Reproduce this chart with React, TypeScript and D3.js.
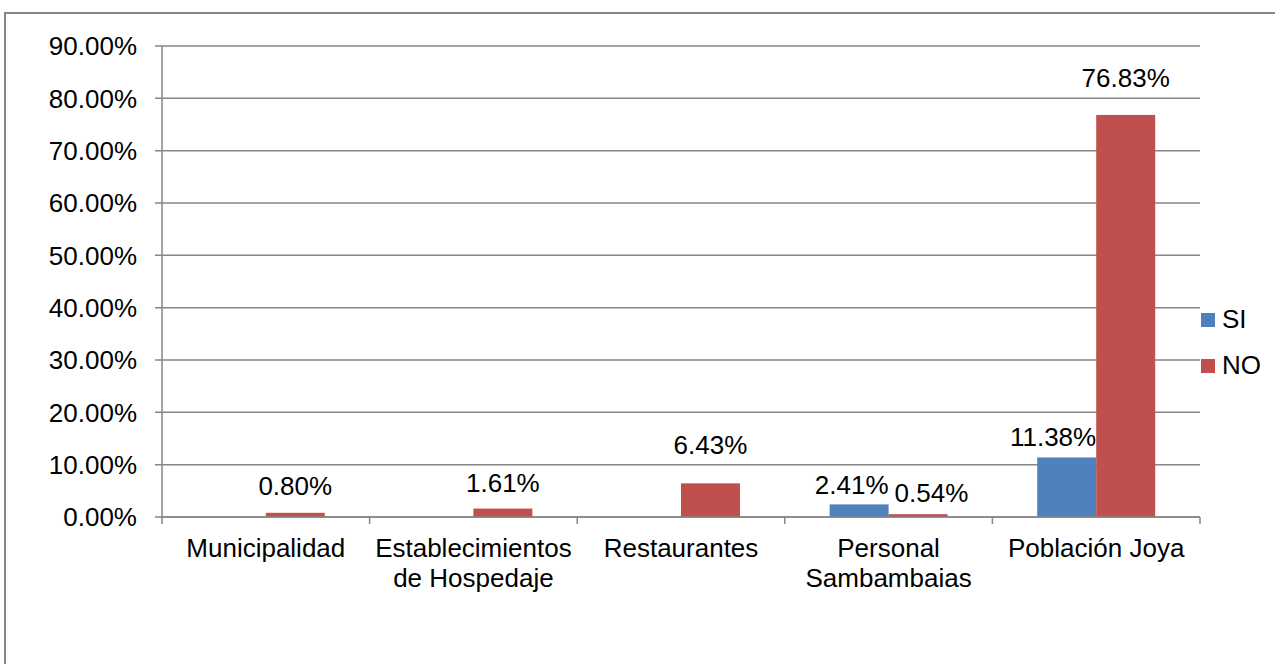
import * as d3 from "d3";

const categories = [
  ["Municipalidad"],
  ["Establecimientos", "de Hospedaje"],
  ["Restaurantes"],
  ["Personal", "Sambambaias"],
  ["Población Joya"],
];
const seriesNames = ["SI", "NO"];
const siValues = [0, 0, 0, 2.41, 11.38];
const noValues = [0.8, 1.61, 6.43, 0.54, 76.83];
const yTicks = [0, 10, 20, 30, 40, 50, 60, 70, 80, 90];
const colors = ["#4F81BD", "#C0504D"];
// hand-nudged label lifts, as in the original
const siLift = [12, 12, 12, 10, 11];
const noLift = [18, 17, 29, 12, 28];

const W = 1275;
const H = 664;
const margin = { top: 46, left: 162, right: 75, bottom: 147 };
const FONT = "'Liberation Sans', Arial, sans-serif";
const FS = 26;

const App = () => {
  const keys = categories.map((c) => c.join(" "));
  const x0 = d3.scaleBand().domain(keys).range([margin.left, W - margin.right]).padding(0);
  const x1 = d3
    .scaleBand()
    .domain(seriesNames)
    .range([0, x0.bandwidth()])
    .paddingInner(0)
    .paddingOuter(0.76);
  const y = d3.scaleLinear().domain([0, 90]).range([H - margin.bottom, margin.top]);
  const fmt = (v: number) => v.toFixed(2) + "%";
  const values = [siValues, noValues];
  const lifts = [siLift, noLift];
  const gray = "#868686";

  const bars: any[] = [];
  const labels: any[] = [];
  keys.forEach((k, i) => {
    seriesNames.forEach((s, j) => {
      const v = values[j][i];
      const bx = x0(k)! + x1(s)!;
      const bw = x1.bandwidth();
      bars.push(
        <rect key={k + s} x={bx} y={y(v)} width={bw} height={y(0) - y(v)} fill={colors[j]} />
      );
      if (v === 0) return;
      const other = values[1 - j][i];
      const ly = y(v) - lifts[j][i];
      const otherLy = y(other) - lifts[1 - j][i];
      let lx = bx + bw / 2;
      let anchor = "middle";
      if (other > 0) {
        if (j === 0) {
          lx = bx + bw;
          anchor = "end";
        } else if (Math.abs(otherLy - ly) < 30) {
          lx = bx + 6;
          anchor = "start";
        }
      }
      labels.push(
        <text key={"l" + k + s} x={lx} y={ly} textAnchor={anchor} fontSize={FS} fill="#000">
          {fmt(v)}
        </text>
      );
    });
  });

  return (
    <svg
      width={W}
      height={H}
      style={{ position: "absolute", left: 0, top: 0, background: "#fff" }}
      fontFamily={FONT}
    >
      <rect x={5} y={13} width={W + 20} height={H + 20} fill="#fff" stroke={gray} strokeWidth={2} />
      {yTicks.map((t) => (
        <g key={t}>
          <line
            x1={margin.left - 7}
            x2={W - margin.right}
            y1={y(t)}
            y2={y(t)}
            stroke={gray}
            strokeWidth={1.5}
          />
          <text
            x={137}
            y={y(t)}
            dy="0.36em"
            textAnchor="end"
            fontSize={FS}
            fill="#000"
          >
            {t.toFixed(2) + "%"}
          </text>
        </g>
      ))}
      <line
        x1={margin.left}
        x2={margin.left}
        y1={y(90)}
        y2={y(0) + 7}
        stroke={gray}
        strokeWidth={1.5}
      />
      {bars}
      <line
        x1={margin.left}
        x2={W - margin.right}
        y1={y(0)}
        y2={y(0)}
        stroke={gray}
        strokeWidth={1.5}
      />
      {keys.map((k) => (
        <line
          key={"t" + k}
          x1={x0(k)! + x0.bandwidth()}
          x2={x0(k)! + x0.bandwidth()}
          y1={y(0)}
          y2={y(0) + 7}
          stroke={gray}
          strokeWidth={1.5}
        />
      ))}
      {categories.map((c, i) => (
        <text
          key={"c" + i}
          x={x0(keys[i])! + x0.bandwidth() / 2}
          y={y(0) + 40}
          textAnchor="middle"
          fontSize={FS}
          fill="#000"
        >
          {c.map((line, li) => (
            <tspan key={li} x={x0(keys[i])! + x0.bandwidth() / 2} dy={li === 0 ? 0 : 30}>
              {line}
            </tspan>
          ))}
        </text>
      ))}
      {labels}
      {seriesNames.map((s, j) => (
        <g key={"lg" + s} transform={`translate(${W - margin.right + 1},${313 + j * 46})`}>
          <rect width={14} height={14} fill={colors[j]} />
          <text x={21} y={15} fontSize={FS} fill="#000">
            {s}
          </text>
        </g>
      ))}
    </svg>
  );
};

export default App;
